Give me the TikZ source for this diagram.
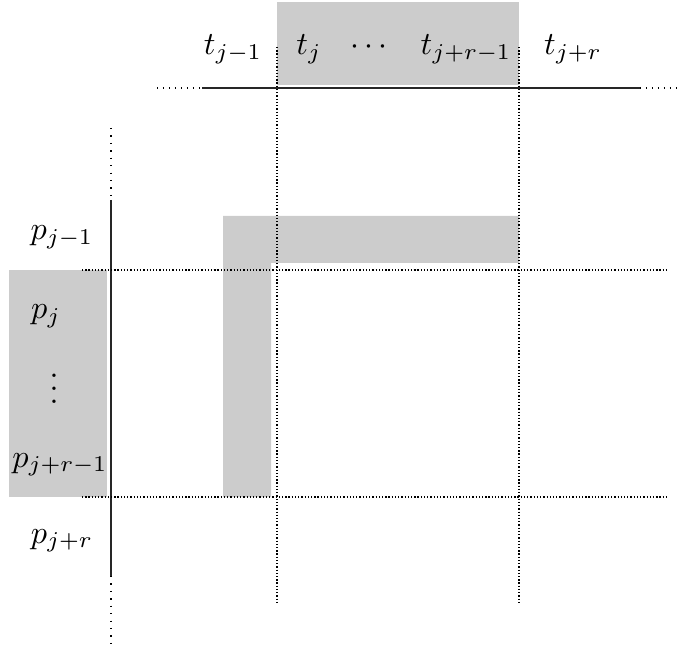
\documentclass[tikz,border=0pt]{standalone}
\begin{document}
\begin{tikzpicture}[x=0.31pt,y=-0.31pt,
  shade/.style={fill=black!20,draw=none},
  axis/.style={line width=0.45pt,black!85},
  grid/.style={line width=0.45pt,dash pattern=on 0.4pt off 0.6pt},
  sparse/.style={line width=0.45pt,dash pattern=on 0.4pt off 1.45pt},
  vsparse/.style={line width=0.45pt,dash pattern=on 0.4pt off 1.9pt},
  lab/.style={anchor=base,inner sep=0pt}]
\useasboundingbox (0,0) rectangle (685,651);
% shaded regions
\fill[shade] (277,2) rectangle (519,85);
\fill[shade] (9,270) rectangle (107,497);
\fill[shade] (223,216) -- (519,216) -- (519,263) -- (271,263) -- (271,497) -- (223,497) -- cycle;
% coordinates
\coordinate (hL) at (157,88);
\coordinate (hA) at (202,88);
\coordinate (hB) at (640,88);
\coordinate (hR) at (680,88);
\coordinate (vT) at (111,128);
\coordinate (vA) at (111,200);
\coordinate (vB) at (111,576);
\coordinate (vE) at (111,648);
\coordinate (g1t) at (277,47);
\coordinate (g1b) at (277,603);
\coordinate (g2t) at (519,47);
\coordinate (g2b) at (519,603);
\coordinate (r1l) at (82,270);
\coordinate (r1r) at (668,270);
\coordinate (r2l) at (82,497);
\coordinate (r2r) at (668,497);
% axes
\draw[axis] (hA) -- (hB);
\draw[sparse] (hL) -- (hA);
\draw[sparse] (hB) -- (hR);
\draw[axis] (vA) -- (vB);
\draw[vsparse] (vT) -- (vA);
\draw[vsparse] (vB) -- (vE);
% grid lines
\draw[grid] (g1t) -- (g1b);
\draw[grid] (g2t) -- (g2b);
\draw[grid] (r1l) -- (r1r);
\draw[grid] (r2l) -- (r2r);
% labels
\node[lab] (t0) at (233,55) {$t_{j-1}$};
\node[lab] (t1) at (309,55) {$t_j$};
\node[lab] (tc) at (369,55) {$\cdots$};
\node[lab] (t2) at (466,55) {$t_{j+r-1}$};
\node[lab] (t3) at (573,55) {$t_{j+r}$};
\node[lab] (p0) at (62,240) {$p_{j-1}$};
\node[lab] (p1) at (46,319) {$p_j$};
\node[inner sep=0pt] (pv) at (54,379) {$\vdots$};
\node[lab] (p2) at (60,467) {$p_{j+r-1}$};
\node[lab] (p3) at (62,543) {$p_{j+r}$};
\end{tikzpicture}
\end{document}
